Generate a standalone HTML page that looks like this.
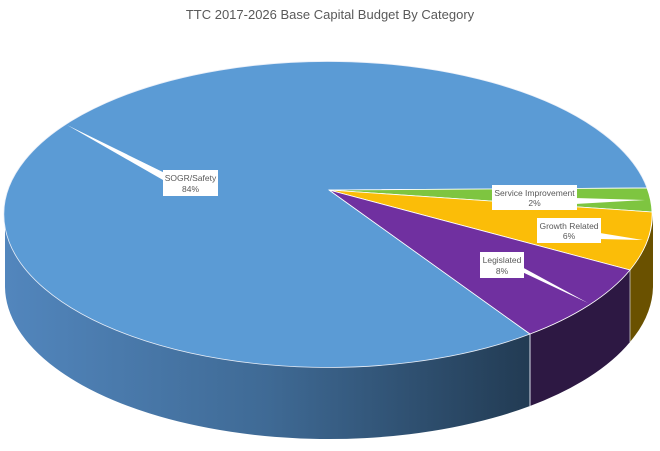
<!DOCTYPE html>
<html><head><meta charset="utf-8"><style>
html,body{margin:0;padding:0;background:#fff;}
svg{display:block;}
text{font-family:"Liberation Sans",sans-serif;fill:#595959;}
</style></head><body>
<svg width="660" height="451" viewBox="0 0 660 451" xmlns="http://www.w3.org/2000/svg">
<defs>
<linearGradient id="bs" x1="5" y1="0" x2="530" y2="0" gradientUnits="userSpaceOnUse">
<stop offset="0" stop-color="#5286bd"/>
<stop offset="0.5" stop-color="#3f6a95"/>
<stop offset="1" stop-color="#223b53"/>
</linearGradient>
</defs>
<text x="330" y="19" font-size="13" text-anchor="middle">TTC 2017-2026 Base Capital Budget By Category</text>
<!-- sides -->
<path d="M5,215 A324,153 0 0,0 530,334 L530,406 A324,153 0 0,1 5,287 Z" fill="url(#bs)"/>
<path d="M530,334 A324,153 0 0,0 630,270 L630,342 A324,153 0 0,1 530,406 Z" fill="#2d1843"/>
<path d="M630,270 A324,153 0 0,0 653,215 L653,287 A324,153 0 0,1 630,342 Z" fill="#6a5100"/>
<line x1="530" y1="334" x2="530" y2="406" stroke="#d8dce8" stroke-width="1"/>
<line x1="630" y1="270" x2="630" y2="342" stroke="#c8c8c8" stroke-width="0.8"/>
<!-- top -->
<path d="M329,190 L647,188 A324,153 0 1,0 530,334 Z" fill="#5b9bd5" stroke="#e8eef8" stroke-width="0.8"/>
<path d="M329,190 L647,188 A324,153 0 0,1 652,212 Z" fill="#7ec540" stroke="#fff" stroke-width="0.8"/>
<path d="M329,190 L652,212 A324,153 0 0,1 630,270 Z" fill="#fbbd08" stroke="#fff" stroke-width="0.8"/>
<path d="M329,190 L630,270 A324,153 0 0,1 530,334 Z" fill="#7030a0" stroke="#fff" stroke-width="0.8"/>
<!-- leaders -->
<path d="M67,125 L175,178 L170,184 Z" fill="#fff"/>
<path d="M575,198 L645,200 L575,204 Z" fill="#fff"/>
<path d="M600,233 L643,240 L600,239 Z" fill="#fff"/>
<path d="M520,266 L588,303 L520,271 Z" fill="#fff"/>
<!-- labels -->
<rect x="163" y="170" width="55" height="26" fill="#fff"/>
<text x="190.5" y="181" font-size="8.5" text-anchor="middle">SOGR/Safety</text>
<text x="190.5" y="192" font-size="8.5" text-anchor="middle">84%</text>
<rect x="492" y="185" width="85" height="25" fill="#fff"/>
<text x="534.5" y="196" font-size="8.5" text-anchor="middle">Service Improvement</text>
<text x="534.5" y="206" font-size="8.5" text-anchor="middle">2%</text>
<rect x="537" y="218" width="64" height="25" fill="#fff"/>
<text x="569" y="229" font-size="8.5" text-anchor="middle">Growth Related</text>
<text x="569" y="239" font-size="8.5" text-anchor="middle">6%</text>
<rect x="480" y="252" width="44" height="26" fill="#fff"/>
<text x="502" y="263" font-size="8.5" text-anchor="middle">Legislated</text>
<text x="502" y="274" font-size="8.5" text-anchor="middle">8%</text>
</svg>
</body></html>
